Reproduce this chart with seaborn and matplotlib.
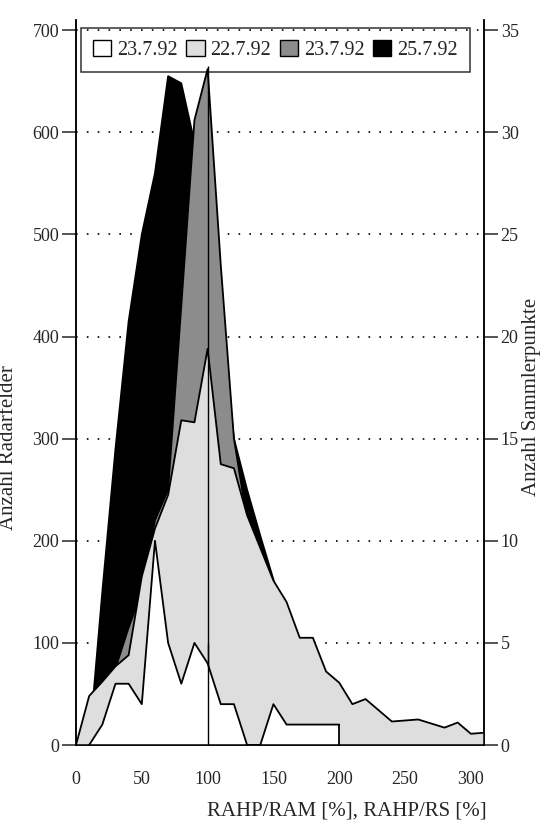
import numpy as np
import pandas as pd
import matplotlib
matplotlib.use("Agg")
import matplotlib.pyplot as plt
import seaborn as sns
from matplotlib.patches import Patch

# --- Daten ---
# 23.7.92 Sammlerpunkte (rechte Achse)
x_weiss = [10, 20, 30, 40, 50, 60, 70, 80, 90, 100, 110, 120, 130, 140, 150, 160, 170, 180, 190, 200]
y_weiss = [0, 1, 3, 3, 2, 10, 5, 3, 5, 4, 2, 2, 0, 0, 2, 1, 1, 1, 1, 1]

# 22.7.92 Radarfelder
x_hell = [0, 10, 20, 30, 40, 50, 60, 70, 80, 90, 100, 110, 120, 130, 140, 150, 160, 170, 180, 190,
          200, 210, 220, 230, 240, 250, 260, 270, 280, 290, 300, 310]
y_hell = [0, 48, 62, 77, 88, 165, 212, 245, 318, 316, 388, 275, 271, 225, 193, 161, 140, 105, 105, 72,
          61, 40, 45, 34, 23, 24, 25, 21, 17, 22, 11, 12]

# 23.7.92 Radarfelder
x_dunkel = [20, 30, 40, 50, 60, 70, 80, 90, 100, 110, 120, 130, 140]
y_dunkel = [40, 75, 115, 150, 220, 250, 430, 612, 662, 470, 300, 220, 150]

# 25.7.92 Radarfelder
x_schwarz = [10, 20, 30, 40, 50, 60, 70, 80, 90, 100, 110, 120, 130, 140, 150, 160]
y_schwarz = [0, 150, 290, 415, 500, 560, 655, 648, 590, 520, 420, 300, 250, 205, 162, 120]

ref_x = 100
ref_top = 665

legend_labels = ["23.7.92", "22.7.92", "23.7.92", "25.7.92"]

# --- Stil ---
sns.set_style("white")
plt.rcParams['font.family'] = ['Liberation Serif', 'DejaVu Serif']
plt.rcParams['font.size'] = 13

fig = plt.figure(figsize=(5.44, 8.27), dpi=100)
ax = fig.add_axes([76 / 544, 1 - 745 / 827, 408 / 544, 725 / 827])
ax2 = ax.twinx()

dotted = (0, (1, 5.5))
ax.set_axisbelow(True)
for v in range(100, 701, 100):
    ax.axhline(v, color='black', lw=1.2, ls=dotted, zorder=0)

# Flächen: hinten schwarz, dann dunkelgrau, hellgrau, vorne weiß
layers = [
    (x_schwarz, y_schwarz, 'black', 2),
    (x_dunkel, y_dunkel, '#8c8c8c', 3),
    (x_hell, y_hell, '#dedede', 4),
]
for xs, ys, col, z in layers:
    ax.fill_between(xs, ys, 0, facecolor=col, edgecolor='none', zorder=z)
    sns.lineplot(x=xs, y=ys, ax=ax, color='black', lw=1.3, zorder=z + 0.5,
                 sort=False, estimator=None)

ax.vlines(ref_x, 0, ref_top, color='black', lw=1.0, zorder=6)

ax2.fill_between(x_weiss, y_weiss, 0, facecolor='white', edgecolor='none', zorder=2)
sns.lineplot(x=x_weiss, y=y_weiss, ax=ax2, color='black', lw=1.3, zorder=3,
             sort=False, estimator=None)
ax2.vlines(x_weiss[-1], 0, y_weiss[-1], color='black', lw=1.3, zorder=3)
ax2.vlines(ref_x, 0, 5, color='black', lw=1.0, zorder=4)

# Achsen
ax.set_xlim(0, 310)
ax.set_ylim(0, 710)
ax2.set_ylim(0, 35.5)
ax.set_xticks(range(0, 301, 50))
ax.set_xticks(range(0, 311, 10), minor=True)
ax.set_yticks(range(0, 701, 100))
ax2.set_yticks(range(0, 36, 5))

ax.tick_params(axis='x', which='both', direction='out', length=14, width=1.1, pad=5, labelsize=13)
ax.tick_params(axis='y', direction='out', length=10, width=1.1, pad=2, labelsize=13)
ax2.tick_params(axis='y', direction='out', length=10, width=1.1, pad=2, labelsize=13)

for a in (ax, ax2):
    a.spines['top'].set_visible(False)
    for s in ('left', 'right', 'bottom'):
        a.spines[s].set_color('black')
        a.spines[s].set_linewidth(1.1)

ax.set_xlabel("RAHP/RAM [%], RAHP/RS [%]", fontsize=15)
ax.set_ylabel("Anzahl Radarfelder", fontsize=15)
ax2.set_ylabel("Anzahl Sammlerpunkte", fontsize=15, rotation=90)
ax.xaxis.set_label_coords(0.664, -0.078)
ax.yaxis.set_label_coords(-0.142, 0.41)
ax2.yaxis.set_label_coords(1.092, 0.48)

# Legende
handles = [
    Patch(facecolor='white', edgecolor='black', lw=1),
    Patch(facecolor='#dedede', edgecolor='black', lw=1),
    Patch(facecolor='#8c8c8c', edgecolor='black', lw=1),
    Patch(facecolor='black', edgecolor='black', lw=1),
]
leg = fig.legend(handles, legend_labels, ncol=4, loc='lower left',
                 bbox_to_anchor=(81 / 544, 1 - 72 / 827, 389 / 544, 52 / 827),
                 mode='expand', fontsize=14.5, frameon=True, fancybox=False,
                 edgecolor='black', facecolor='none', framealpha=None,
                 handlelength=0.9, handleheight=0.9, handletextpad=0.3,
                 columnspacing=0.8, borderpad=0.6, borderaxespad=0)
leg.get_frame().set_linewidth(1.1)

fig.savefig("out.png", dpi=100)
